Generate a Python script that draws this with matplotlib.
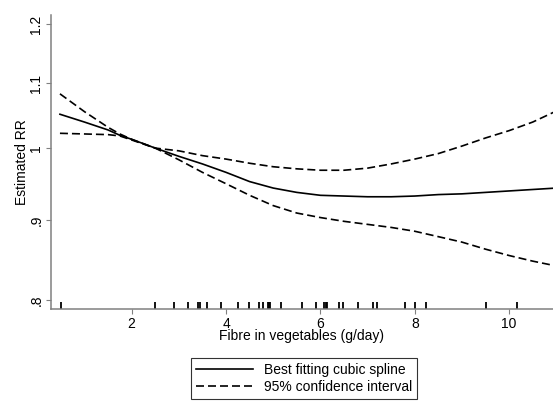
#!/usr/bin/env python3

import numpy as np
import matplotlib.pyplot as plt
from matplotlib.ticker import FixedLocator, FixedFormatter, NullLocator

plt.rcParams['font.family'] = ['Liberation Sans', 'DejaVu Sans']

# fibre intake (g/day) where the curves were read
fibre = [0.48, 1.0, 1.5, 1.75, 2.0, 2.5, 3.0, 3.5, 4.0, 4.5, 5.0, 5.5, 6.0,
         6.5, 7.0, 7.5, 8.0, 8.5, 9.0, 9.5, 10.0, 10.5, 11.0]

# estimated relative risk, best fitting cubic spline
rr_fit = [1.051, 1.039, 1.027, 1.019, 1.013, 1.000, 0.988, 0.977, 0.965,
          0.952, 0.943, 0.937, 0.933, 0.932, 0.931, 0.931, 0.932, 0.934,
          0.935, 0.937, 0.939, 0.941, 0.943]

# 95% confidence limits
rr_upper = [1.083, 1.055, 1.031, 1.021, 1.013, 1.000, 0.996, 0.989, 0.984,
            0.978, 0.973, 0.970, 0.968, 0.968, 0.971, 0.977, 0.984, 0.992,
            1.003, 1.015, 1.026, 1.039, 1.056]
rr_lower = [1.022, 1.021, 1.020, 1.018, 1.012, 1.000, 0.983, 0.965, 0.949,
            0.933, 0.919, 0.909, 0.903, 0.898, 0.894, 0.890, 0.885, 0.878,
            0.871, 0.862, 0.854, 0.847, 0.841]

# observed exposure levels (rug)
rug = [0.50, 2.49, 2.90, 3.20, 3.40, 3.44, 3.59, 3.90, 4.26, 4.49, 4.70,
       4.78, 4.88, 4.92, 4.94, 5.16, 5.60, 5.90, 6.08, 6.12, 6.15, 6.40,
       6.48, 6.80, 7.11, 7.20, 7.79, 8.00, 8.24, 9.50, 10.16]

x_ticks = [2, 4, 6, 8, 10]
y_ticks = [0.8, 0.9, 1.0, 1.1, 1.2]
y_labels = ['.8', '.9', '1', '1.1', '1.2']


def main():
    fig = plt.figure(figsize=(5.53, 4.03), dpi=100)
    ax = fig.add_axes([0.0922, 0.2333, 0.9078, 0.7295])

    ax.plot(fibre, rr_fit, color='black', lw=1.2, label='Best fitting cubic spline')
    ax.plot(fibre, rr_upper, color='black', lw=1.2, dashes=(4.8, 2.4),
            label='95% confidence interval')
    ax.plot(fibre, rr_lower, color='black', lw=1.2, dashes=(4.8, 2.4))

    # rug of observed values along the x axis
    ax.vlines(rug, 0, 0.025, color='black', lw=1.3,
              transform=ax.get_xaxis_transform(), clip_on=False)

    ax.set_yscale('log')
    ax.set_xlim(0.29, 10.93)
    ax.set_ylim(0.7895, 1.216)

    ax.xaxis.set_major_locator(FixedLocator(x_ticks))
    ax.yaxis.set_major_locator(FixedLocator(y_ticks))
    ax.yaxis.set_major_formatter(FixedFormatter(y_labels))
    ax.yaxis.set_minor_locator(NullLocator())
    ax.xaxis.set_minor_locator(NullLocator())

    for side in ['top', 'right']:
        ax.spines[side].set_visible(False)
    for side in ['left', 'bottom']:
        ax.spines[side].set_color('#808080')
        ax.spines[side].set_linewidth(1.1)

    ax.tick_params(axis='both', direction='out', length=3.5, width=0.8,
                   color='#808080', labelsize=10, labelcolor='black', pad=2)
    for lab in ax.get_yticklabels():
        lab.set_rotation(90)
        lab.set_va('center')

    ax.set_xlabel('Fibre in vegetables (g/day)', fontsize=10, labelpad=-1)
    ax.set_ylabel('Estimated RR', fontsize=10, labelpad=0)

    leg = fig.legend(loc='upper left', bbox_to_anchor=(191 / 553, 1 - 358 / 403),
                     fontsize=10, handlelength=4.1, handletextpad=0.8,
                     borderpad=0.35, labelspacing=0.25, fancybox=False,
                     frameon=True, borderaxespad=0)
    leg.get_frame().set_edgecolor('black')
    leg.get_frame().set_linewidth(0.8)

    fig.savefig('out.png', dpi=100)


if __name__ == "__main__":
    main()
